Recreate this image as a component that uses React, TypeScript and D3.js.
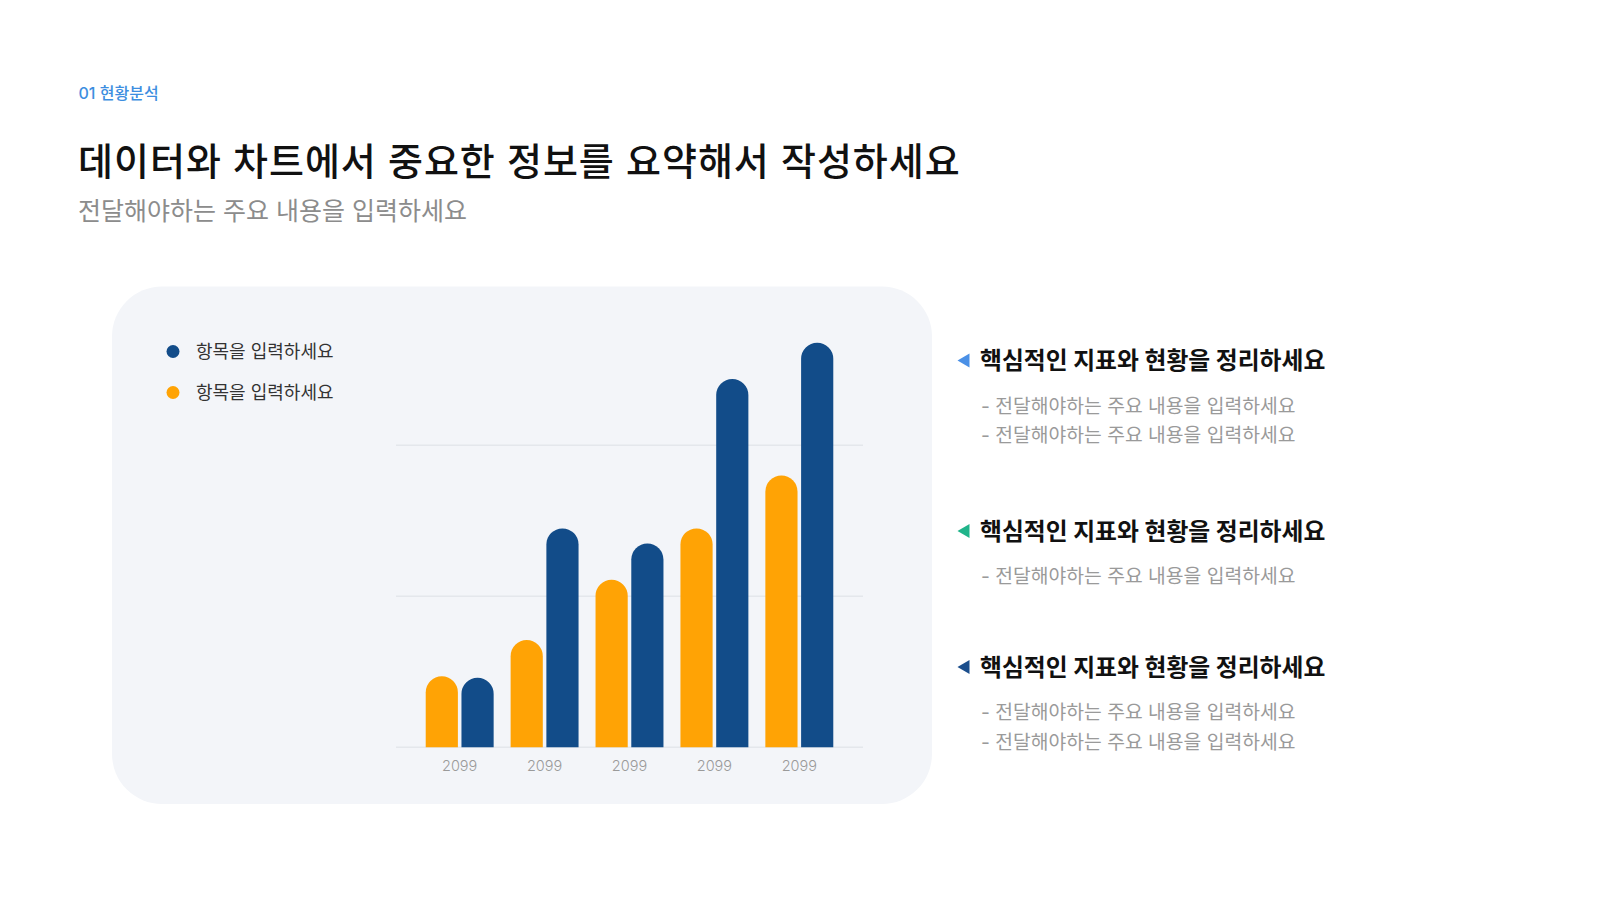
import React from "react";
import * as d3 from "d3";

const categories = ["2099", "2099", "2099", "2099", "2099"];
const seriesNames = ["항목을 입력하세요", "항목을 입력하세요"];
const orangeValues = [47, 71, 111, 145, 180];
const blueValues = [46, 145, 135, 244, 268];
const gridTicks = [0, 100, 200];

const headerLabel = "01 현황분석";
const titleText = "데이터와 차트에서 중요한 정보를 요약해서 작성하세요";
const subtitleText = "전달해야하는 주요 내용을 입력하세요";
const noteHeadings = [
  "핵심적인 지표와 현황을 정리하세요",
  "핵심적인 지표와 현황을 정리하세요",
  "핵심적인 지표와 현황을 정리하세요",
];
const noteLines = [
  ["- 전달해야하는 주요 내용을 입력하세요", "- 전달해야하는 주요 내용을 입력하세요"],
  ["- 전달해야하는 주요 내용을 입력하세요"],
  ["- 전달해야하는 주요 내용을 입력하세요", "- 전달해야하는 주요 내용을 입력하세요"],
];

const ORANGE = "#FFA305";
const BLUE = "#124C89";
const noteColors = ["#4A90E6", "#20B48A", "#1B4E8C"];
const FONT = "Inter, 'Noto Sans CJK KR', sans-serif";

function topRoundedBar(x: number, y: number, w: number, h: number) {
  const r = Math.min(w / 2, h);
  const p = d3.path();
  p.moveTo(x, y + h);
  p.lineTo(x, y + r);
  p.arc(x + w / 2, y + r, w / 2, Math.PI, 0);
  p.lineTo(x + w, y + h);
  p.closePath();
  return p.toString();
}

export default function App() {
  const x0 = d3
    .scaleBand<number>()
    .domain(d3.range(categories.length))
    .range([396, 863])
    .paddingInner(0.2)
    .paddingOuter(0.35);
  const x1 = d3
    .scaleBand<number>()
    .domain([0, 1])
    .range([0, x0.bandwidth()])
    .paddingInner(0.1);
  const y = d3.scaleLinear().domain([0, 300]).range([747.3, 294.4]);

  const noteY = [360.5, 531, 667];

  return (
    <svg
      width={1600}
      height={900}
      style={{ position: "absolute", left: 0, top: 0, fontFamily: FONT }}
    >
      <rect x={0} y={0} width={1600} height={900} fill="#ffffff" />
      <text x={78.5} y={99} fontSize={16} fontWeight={500} fill="#3D8EE0">
        {headerLabel}
      </text>
      <text x={78} y={175} fontSize={38} fontWeight={500} letterSpacing={1} fill="#111111">
        {titleText}
      </text>
      <text x={78} y={219.5} fontSize={25} fontWeight={400} fill="#8C8C8C">
        {subtitleText}
      </text>

      <rect x={112} y={286.5} width={820} height={517.5} rx={50} ry={50} fill="#F3F5F9" />

      {gridTicks.map((t) => (
        <line key={t} x1={396} x2={863} y1={y(t)} y2={y(t)} stroke="#E4E7EC" strokeWidth={1.5} />
      ))}

      {categories.map((c, i) => {
        const gx = x0(i)!;
        return (
          <g key={i}>
            {[orangeValues[i], blueValues[i]].map((v, s) => (
              <path
                key={s}
                d={topRoundedBar(gx + x1(s)!, y(v), x1.bandwidth(), y(0) - y(v))}
                fill={s === 0 ? ORANGE : BLUE}
              />
            ))}
            <text
              x={gx + x0.bandwidth() / 2}
              y={771}
              textAnchor="middle"
              fontSize={14.5}
              fontWeight={300}
              fill="#9A9A9A"
            >
              {c}
            </text>
          </g>
        );
      })}

      {seriesNames.map((n, i) => (
        <g key={i}>
          <circle cx={173} cy={351.5 + i * 41} r={6.5} fill={i === 0 ? BLUE : ORANGE} />
          <text x={196} y={357.5 + i * 41} fontSize={18} fill="#333333">
            {n}
          </text>
        </g>
      ))}

      {noteHeadings.map((h, i) => (
        <g key={i}>
          <path
            d={`M ${957.5} ${noteY[i]} L ${969.5} ${noteY[i] - 7} L ${969.5} ${noteY[i] + 7} Z`}
            fill={noteColors[i]}
          />
          <text x={980} y={noteY[i] + 8.5} fontSize={23.8} fontWeight={700} fill="#111111">
            {h}
          </text>
          {noteLines[i].map((l, j) => (
            <text
              key={j}
              x={981}
              y={noteY[i] + 52 + j * 29.5}
              fontSize={19.3}
              fontWeight={400}
              fill="#9A9A9A"
            >
              {l}
            </text>
          ))}
        </g>
      ))}
    </svg>
  );
}
